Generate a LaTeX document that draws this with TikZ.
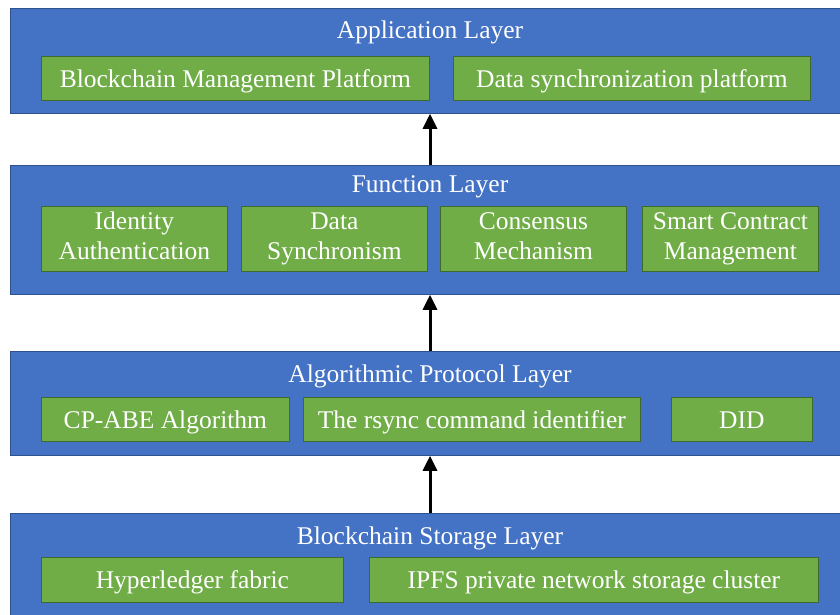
\documentclass[tikz,border=0pt]{standalone}
\usepackage{fontspec}
\setmainfont{Liberation Serif}
\usetikzlibrary{arrows.meta}
\definecolor{layerblue}{HTML}{4472C4}
\definecolor{layeredge}{HTML}{2F528F}
\definecolor{itemgreen}{HTML}{70AD47}
\definecolor{itemedge}{HTML}{3F6A2E}
% invisible rule giving every text line the same height and depth
\newcommand\boxstrut{\rule[-6pt]{0pt}{30pt}}
\tikzset{
  boxtext/.style={text=white, font=\fontsize{25.5}{30}\selectfont,
    execute at begin node={\boxstrut}, execute at end node={\boxstrut}},
  layerbox/.style={draw=layeredge, line width=0.8pt, fill=layerblue, anchor=north west, inner sep=0pt},
  itembox/.style={draw=itemedge, line width=0.8pt, fill=itemgreen, anchor=north west, inner sep=0pt,
    boxtext, align=center},
  layertitle/.style={boxtext, inner sep=0pt},
  uparrow/.style={-{Triangle[length=15pt,width=14pt]}, line width=3pt, black}
}
\begin{document}
\begin{tikzpicture}[x=1pt, y=-1pt]
\clip (0,0) rectangle (840,615);
\fill[white] (0,0) rectangle (840,615);

% layer frames
\node[layerbox, minimum width=840pt, minimum height=105pt] (app) at (10,8) {};
\node[layerbox, minimum width=840pt, minimum height=129pt] (func) at (10,165) {};
\node[layerbox, minimum width=840pt, minimum height=104pt] (algo) at (10,351) {};
\node[layerbox, minimum width=840pt, minimum height=110pt] (store) at (10,513) {};

% layer titles
\node[layertitle] (appT) at (430,30) {Application Layer};
\node[layertitle] (funcT) at (430,183) {Function Layer};
\node[layertitle] (algoT) at (430,373) {Algorithmic Protocol Layer};
\node[layertitle] (storeT) at (430,535) {Blockchain Storage Layer};

% application layer items
\node[itembox, minimum width=388pt, minimum height=44pt] (bmp) at (41,56) {Blockchain Management Platform};
\node[itembox, minimum width=357pt, minimum height=44pt] (dsp) at (453,56) {Data synchronization platform};

% function layer items
\node[itembox, minimum width=186pt, minimum height=65pt] (ida) at (41,206) {Identity\\Authentication};
\node[itembox, minimum width=186pt, minimum height=65pt] (dsy) at (241,206) {Data\\Synchronism};
\node[itembox, minimum width=186pt, minimum height=65pt] (cmm) at (440,206) {Consensus\\Mechanism};
\node[itembox, minimum width=176pt, minimum height=65pt] (scm) at (642,206) {Smart Contract\\Management};

% algorithmic protocol layer items
\node[itembox, minimum width=248pt, minimum height=44pt] (cpabe) at (41,397) {CP-ABE Algorithm};
\node[itembox, minimum width=337pt, minimum height=44pt] (rsync) at (303,397) {The rsync command identifier};
\node[itembox, minimum width=141pt, minimum height=44pt] (did) at (671,397) {DID};

% storage layer items
\node[itembox, minimum width=302pt, minimum height=45pt] (hlf) at (41,557) {Hyperledger fabric};
\node[itembox, minimum width=449pt, minimum height=45pt] (ipfs) at (369,557) {IPFS private network storage cluster};

% arrows between layers
\coordinate (ax) at (430,0);
\draw[uparrow] (func.north -| ax) -- (app.south -| ax);
\draw[uparrow] (algo.north -| ax) -- (func.south -| ax);
\draw[uparrow] (store.north -| ax) -- (algo.south -| ax);
\end{tikzpicture}
\end{document}
